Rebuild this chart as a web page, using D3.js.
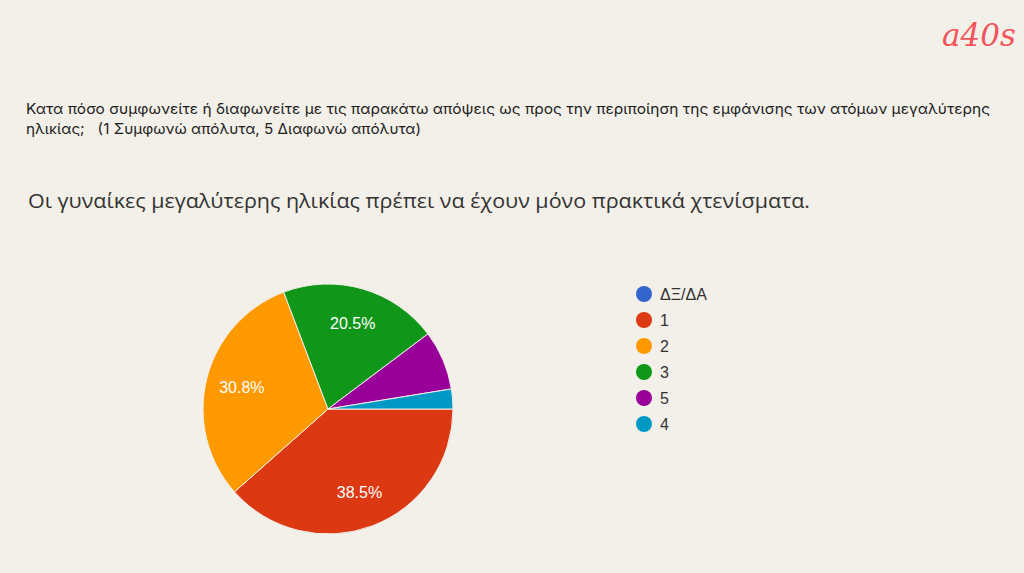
<!DOCTYPE html>
<html>
<head>
<meta charset="utf-8">
<script src="https://cdn.jsdelivr.net/npm/d3@7"></script>
<style>
  html, body { margin: 0; padding: 0; background: #f3f0e9; }
  svg { display: block; }
</style>
</head>
<body>
<svg></svg>
<script>
'use strict';

// answers in the order Google Forms lists them
const categories = ["ΔΞ/ΔΑ", "1", "2", "3", "5", "4"];
const counts = [0, 15, 12, 8, 3, 1];
const colors = ["#3366cc", "#dc3912", "#ff9900", "#109618", "#990099", "#0099c6"];

const question = [
  "Κατα πόσο συμφωνείτε ή διαφωνείτε με τις παρακάτω απόψεις ως προς την περιποίηση της εμφάνισης των ατόμων μεγαλύτερης",
  "ηλικίας;   (1 Συμφωνώ απόλυτα, 5 Διαφωνώ απόλυτα)"
];
const questionWidths = [964, 395];
const statement = "Οι γυναίκες μεγαλύτερης ηλικίας πρέπει να έχουν μόνο πρακτικά χτενίσματα.";

const width = 1024, height = 573;
const svg = d3.select("svg")
  .attr("width", width)
  .attr("height", height);

svg.append("rect")
  .attr("width", width)
  .attr("height", height)
  .attr("fill", "#f3f0e9");

// logo top right
svg.append("text")
  .attr("x", 942)
  .attr("y", 46)
  .style("font-family", "'DejaVu Serif', serif")
  .style("font-style", "italic")
  .style("font-size", "31px")
  .style("fill", "#f2545b")
  .text("a40s");

svg.selectAll(".question")
  .data(question)
  .enter()
  .append("text")
  .attr("class", "question")
  .attr("x", 26)
  .attr("y", (d, i) => 114 + i * 20)
  .attr("textLength", (d, i) => questionWidths[i])
  .attr("lengthAdjust", "spacingAndGlyphs")
  .style("font-family", "Inter, 'Open Sans', sans-serif")
  .style("font-size", "14.5px")
  .style("fill", "#1e1e1e")
  .style("white-space", "pre")
  .text(d => d);

svg.append("text")
  .attr("x", 28)
  .attr("y", 208)
  .attr("textLength", 782)
  .attr("lengthAdjust", "spacingAndGlyphs")
  .style("font-family", "'Open Sans', Roboto, sans-serif")
  .style("font-size", "20px")
  .style("fill", "#333")
  .text(statement);

// pie
const cx = 328, cy = 409, r = 125;
const total = d3.sum(counts);
const g = svg.append("g").attr("transform", `translate(${cx}, ${cy})`);

const pie = d3.pie()
  .value(d => d.value)
  .sort(null)
  .startAngle(Math.PI / 2)
  .endAngle(Math.PI / 2 + 2 * Math.PI);

const data = categories.map((c, i) => ({ name: c, value: counts[i], color: colors[i] }));
const arcs = pie(data);

const arc = d3.arc().innerRadius(0).outerRadius(r);
const labelArc = d3.arc().innerRadius(r * 0.71).outerRadius(r * 0.71);

g.selectAll("path")
  .data(arcs.filter(d => d.data.value > 0))
  .enter()
  .append("path")
  .attr("d", arc)
  .attr("fill", d => d.data.color)
  .attr("stroke", "#f3f0e9")
  .attr("stroke-width", 1);

g.selectAll(".pct")
  .data(arcs.filter(d => d.data.value / total > 0.1))
  .enter()
  .append("text")
  .attr("class", "pct")
  .attr("transform", d => `translate(${labelArc.centroid(d)})`)
  .attr("dy", "0.35em")
  .attr("text-anchor", "middle")
  .style("font-family", "Arial, 'Liberation Sans', sans-serif")
  .style("font-size", "16px")
  .style("fill", "#fff")
  .text(d => (d.data.value / total * 100).toFixed(1) + "%");

// legend
const legend = svg.append("g").attr("transform", "translate(644, 294)");
const item = legend.selectAll(".item")
  .data(data)
  .enter()
  .append("g")
  .attr("class", "item")
  .attr("transform", (d, i) => `translate(0, ${i * 26})`);

item.append("circle")
  .attr("r", 8)
  .attr("fill", d => d.color);

item.append("text")
  .attr("x", 16)
  .attr("dy", "0.35em")
  .style("font-family", "Arial, 'Liberation Sans', sans-serif")
  .style("font-size", "16px")
  .style("fill", "#333")
  .text(d => d.name);
</script>
</body>
</html>
